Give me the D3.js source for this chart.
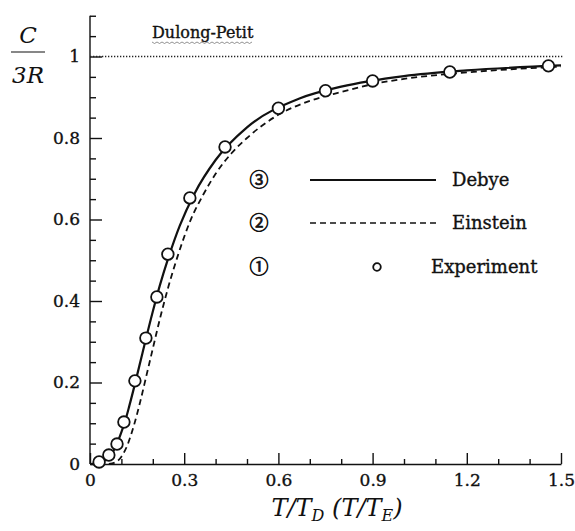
<!DOCTYPE html>
<html>
<head>
<meta charset="utf-8">
<style>
  body { margin: 0; background: #fff; }
</style>
</head>
<body>
<script src="https://cdn.jsdelivr.net/npm/d3@7/dist/d3.min.js"></script>
<script>

// data ///////////////////////////////////////////////

// x = T/T_D, y = C/3R
var debyeT = [0, 0.03, 0.05, 0.067, 0.083, 0.1, 0.111, 0.125, 0.143, 0.167, 0.2, 0.222, 0.25, 0.286, 0.333, 0.4, 0.5, 0.667, 0.8, 1.0, 1.2, 1.5];
var debyeC = [0, 0.002, 0.01, 0.023, 0.045, 0.078, 0.103, 0.142, 0.196, 0.272, 0.374, 0.437, 0.507, 0.585, 0.664, 0.746, 0.826, 0.897, 0.926, 0.952, 0.966, 0.978];

var einsteinT = [0.06, 0.08, 0.09, 0.1, 0.11, 0.12, 0.13, 0.14, 0.15, 0.16, 0.18, 0.2, 0.22, 0.25, 0.28, 0.32, 0.36, 0.4, 0.45, 0.5, 0.6, 0.7, 0.8, 0.9, 1.0, 1.2, 1.5];
var einsteinC = [0, 0.004, 0.009, 0.018, 0.031, 0.048, 0.07, 0.095, 0.123, 0.153, 0.218, 0.283, 0.348, 0.436, 0.512, 0.598, 0.66, 0.712, 0.762, 0.8, 0.857, 0.891, 0.913, 0.932, 0.945, 0.961, 0.975];

var expT = [0.029, 0.06, 0.086, 0.108, 0.143, 0.178, 0.213, 0.248, 0.318, 0.43, 0.6, 0.75, 0.9, 1.146, 1.46];
var expC = [0.005, 0.022, 0.049, 0.103, 0.204, 0.309, 0.41, 0.515, 0.653, 0.778, 0.873, 0.916, 0.94, 0.962, 0.977];

var xMajor = [0, 0.3, 0.6, 0.9, 1.2, 1.5];
var xLabels = ['0', '0.3', '0.6', '0.9', '1.2', '1.5'];
var xMinor = [0.1, 0.2, 0.4, 0.5, 0.7, 0.8, 1.0, 1.1, 1.3, 1.4];

var yMajor = [0, 0.2, 0.4, 0.6, 0.8, 1];
var yLabels = ['0', '0.2', '0.4', '0.6', '0.8', '1'];
var yMinor = [0.05, 0.1, 0.15, 0.25, 0.3, 0.35, 0.45, 0.5, 0.55, 0.65, 0.7, 0.75, 0.85, 0.9, 0.95, 1.05, 1.1];

var dulongPetit = 1;

var legendMarks = ['③', '②', '①'];
var legendNames = ['Debye', 'Einstein', 'Experiment'];

// chart ////////////////////////////////////////////////////////////////////

var width = 575, height = 531;
var serif = '"DejaVu Serif", serif';
var ink = '#111';

var svg = d3.select('body').append('svg')
	.attr('width', width)
	.attr('height', height);

var x = d3.scaleLinear().domain([0, 1.5]).range([90, 561]);
var y = d3.scaleLinear().domain([0, 1.1]).range([464, 15.75]);

var [x0, x1] = x.range();
var [y0, y1] = y.range();

// heavier, scanned-looking text
function ink_text(sel, size) {
	return sel
		.attr('font-family', serif)
		.attr('font-size', size)
		.attr('fill', ink)
		.attr('stroke', ink)
		.attr('stroke-width', 0.35);
}

// axes

function styleAxis(g) {
	g.selectAll('path, line').attr('stroke', ink).attr('stroke-width', 1.4);
	g.selectAll('text').call(ink_text, 17);
}

svg.append('g')
	.attr('transform', `translate(0,${y0})`)
	.call(d3.axisBottom(x).tickValues(xMinor).tickSize(-5).tickSizeOuter(0).tickFormat(''))
	.call(g => g.select('.domain').remove())
	.call(styleAxis);
svg.append('g')
	.attr('transform', `translate(0,${y0})`)
	.call(d3.axisBottom(x).tickValues(xMajor).tickSize(-11).tickSizeOuter(0).tickPadding(10)
		.tickFormat((d, i) => xLabels[i]))
	.call(styleAxis);

svg.append('g')
	.attr('transform', `translate(${x0},0)`)
	.call(d3.axisLeft(y).tickValues(yMinor).tickSize(-6).tickSizeOuter(0).tickFormat(''))
	.call(g => g.select('.domain').remove())
	.call(styleAxis);
svg.append('g')
	.attr('transform', `translate(${x0},0)`)
	.call(d3.axisLeft(y).tickValues(yMajor).tickSize(-12).tickSizeOuter(0).tickPadding(10)
		.tickFormat((d, i) => yLabels[i]))
	.call(g => g.select('.domain').attr('d', `M0,${y0}V${y(1.1)}`))
	.call(styleAxis);

// axis titles

svg.append('text')
	.attr('x', 337).attr('y', 516)
	.attr('text-anchor', 'middle')
	.attr('font-family', serif).attr('fill', ink)
	.attr('font-size', 24).attr('font-style', 'italic')
	.call(t => {
		t.append('tspan').text('T/T');
		t.append('tspan').attr('font-size', 16).attr('dy', 5).text('D');
		t.append('tspan').attr('dy', -5).text(' (T/T');
		t.append('tspan').attr('font-size', 16).attr('dy', 5).text('E');
		t.append('tspan').attr('dy', -5).text(')');
	});

var ytitle = svg.append('g').attr('transform', 'translate(28,0)');
ytitle.append('text')
	.attr('y', 43).attr('text-anchor', 'middle')
	.attr('font-family', serif).attr('fill', ink)
	.attr('font-size', 23).attr('font-style', 'italic')
	.text('C');
ytitle.append('line')
	.attr('x1', -17).attr('x2', 17)
	.attr('y1', 52).attr('y2', 52)
	.attr('stroke', ink).attr('stroke-width', 1.2);
ytitle.append('text')
	.attr('y', 83).attr('text-anchor', 'middle')
	.attr('font-family', serif).attr('fill', ink)
	.attr('font-size', 23).attr('font-style', 'italic')
	.text('3R');

// Dulong-Petit limit

svg.append('line')
	.attr('x1', x0).attr('x2', x1 + 2)
	.attr('y1', y(dulongPetit)).attr('y2', y(dulongPetit))
	.attr('stroke', '#222').attr('stroke-width', 1.3)
	.attr('stroke-dasharray', '1.3,1.7');

var dp = svg.append('text')
	.attr('x', 152).attr('y', 38)
	.call(ink_text, 16)
	.text('Dulong-Petit');
var bb = dp.node().getBBox();
var zig = d3.range(bb.x, bb.x + bb.width, 2.5).map((v, i) => [v, 42 + (i % 2 ? 1.5 : 0)]);
svg.append('path')
	.attr('d', d3.line()(zig))
	.attr('fill', 'none').attr('stroke', '#777').attr('stroke-width', 0.8);

// curves

var line = d3.line()
	.x(d => x(d[0]))
	.y(d => y(d[1]))
	.curve(d3.curveMonotoneX);

svg.append('path')
	.datum(einsteinT.map((t, i) => [t, einsteinC[i]]))
	.attr('d', line)
	.attr('fill', 'none')
	.attr('stroke', ink).attr('stroke-width', 1.8)
	.attr('stroke-dasharray', '6,4');

svg.append('path')
	.datum(debyeT.map((t, i) => [t, debyeC[i]]))
	.attr('d', line)
	.attr('fill', 'none')
	.attr('stroke', ink).attr('stroke-width', 2.2);

svg.append('g')
	.selectAll('circle')
	.data(expT.map((t, i) => [t, expC[i]]))
	.join('circle')
		.attr('cx', d => x(d[0]))
		.attr('cy', d => y(d[1]))
		.attr('r', 5.8)
		.attr('fill', '#fff')
		.attr('stroke', ink).attr('stroke-width', 1.8);

// legend

var legend = svg.append('g');
var rows = legend.selectAll('g')
	.data(legendNames)
	.join('g')
		.attr('transform', (d, i) => `translate(0,${[180, 223, 267][i]})`);

rows.append('text')
	.attr('x', 259).attr('dy', '0.36em')
	.attr('text-anchor', 'middle')
	.attr('font-family', '"Noto Sans CJK SC", "DejaVu Sans", sans-serif')
	.attr('font-size', 19)
	.attr('fill', ink)
	.attr('stroke', ink).attr('stroke-width', 0.7)
	.text((d, i) => legendMarks[i]);

rows.filter((d, i) => i < 2).append('line')
	.attr('x1', 310).attr('x2', 436)
	.attr('stroke', ink)
	.attr('stroke-width', (d, i) => i == 0 ? 2 : 1.6)
	.attr('stroke-dasharray', (d, i) => i == 0 ? null : '6,4');

rows.filter((d, i) => i == 2).append('circle')
	.attr('cx', 377).attr('r', 3.8)
	.attr('fill', '#fff')
	.attr('stroke', ink).attr('stroke-width', 1.8);

rows.append('text')
	.attr('x', (d, i) => i == 2 ? 431 : 452)
	.attr('dy', '0.35em')
	.call(ink_text, 18)
	.text(d => d);

</script>
</body>
</html>
